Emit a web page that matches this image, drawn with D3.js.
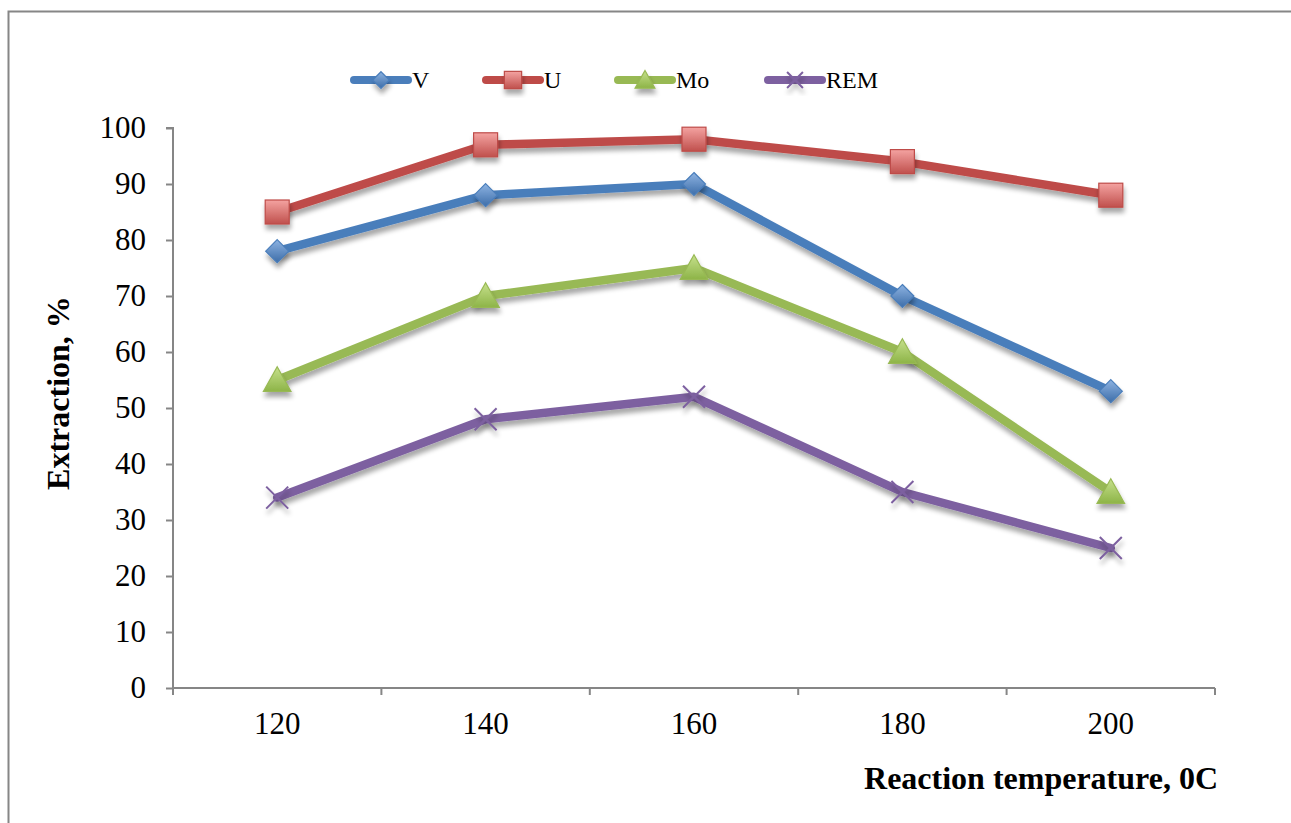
<!DOCTYPE html>
<html><head><meta charset="utf-8">
<script src="https://cdn.jsdelivr.net/npm/d3@7"></script>
<style>body{margin:0;background:#fff}svg{display:block}</style>
</head><body>
<svg id="c" width="1291" height="823"></svg>
<script>
const categories = ["120","140","160","180","200"];
const seriesNames = ["V","U","Mo","REM"];
const valuesV = [78, 88, 90, 70, 53];
const valuesU = [85, 97, 98, 94, 88];
const valuesMo = [55, 70, 75, 60, 35];
const valuesREM = [34, 48, 52, 35, 25];
const yTicks = [0,10,20,30,40,50,60,70,80,90,100];

const series = [
  {name:"V", values:valuesV, color:"#4A7EBB", light:"#8DB3E2", dark:"#3D6DA8", marker:"diamond"},
  {name:"U", values:valuesU, color:"#BE4B48", light:"#F4A3A1", dark:"#C0504D", marker:"square"},
  {name:"Mo", values:valuesMo, color:"#98B954", light:"#C6E08C", dark:"#8DB447", marker:"triangle"},
  {name:"REM", values:valuesREM, color:"#7D60A0", light:"#7D60A0", dark:"#7D60A0", marker:"x"}
];

const svg = d3.select("#c");
const defs = svg.append("defs");
const f = defs.append("filter").attr("id","sh").attr("x","-50%").attr("y","-50%").attr("width","200%").attr("height","200%");
f.append("feGaussianBlur").attr("in","SourceAlpha").attr("stdDeviation",2.5).attr("result","b");
f.append("feOffset").attr("dx",1).attr("dy",5).attr("result","o");
f.append("feComponentTransfer").append("feFuncA").attr("type","linear").attr("slope",0.35);
const m = f.append("feMerge"); m.append("feMergeNode"); m.append("feMergeNode").attr("in","SourceGraphic");
series.forEach((s,i)=>{
  const g = defs.append("linearGradient").attr("id","g"+i).attr("x1",0).attr("y1",0).attr("x2",0).attr("y2",1);
  g.append("stop").attr("offset","0%").attr("stop-color",s.light);
  g.append("stop").attr("offset","100%").attr("stop-color",s.dark);
});

// outer border
svg.append("path").attr("d","M8.5,823 L8.5,11.5 L1291,11.5").attr("fill","none").attr("stroke","#868686").attr("stroke-width",2);

const x0 = 173, x1 = 1215, yTop = 128, yBot = 688;
const x = d3.scaleBand().domain(categories).range([x0,x1]);
const y = d3.scaleLinear().domain([0,100]).range([yBot,yTop]);
const font = "'Liberation Serif','Times New Roman',serif";

// y axis
const ya = svg.append("g").attr("transform",`translate(${x0},0)`)
  .call(d3.axisLeft(y).tickValues(yTicks).tickSize(7).tickPadding(20));
ya.select(".domain").attr("stroke","#868686").attr("stroke-width",2).attr("d",`M-7,${yTop}H0V${yBot}`);
ya.selectAll(".tick line").attr("stroke","#868686").attr("stroke-width",2);
ya.selectAll(".tick text").attr("font-family",font).attr("font-size",31).attr("fill","#000");

// x axis
const xa = svg.append("g").attr("transform",`translate(0,${yBot})`)
  .call(d3.axisBottom(x).tickSize(0).tickPadding(24));
xa.select(".domain").attr("stroke","#868686").attr("stroke-width",2).attr("d",`M${x0},0H${x1}`);
xa.selectAll(".tick line").remove();
xa.selectAll(".tick text").attr("font-family",font).attr("font-size",31).attr("fill","#000");
const bounds = categories.map(c=>x(c)).concat([x1]);
xa.selectAll("line.sep").data(bounds).enter().append("line")
  .attr("x1",d=>d).attr("x2",d=>d).attr("y1",0).attr("y2",7)
  .attr("stroke","#868686").attr("stroke-width",2);

// axis titles
svg.append("text").attr("x",1218).attr("y",789).attr("text-anchor","end")
  .attr("font-family",font).attr("font-weight","bold").attr("font-size",32).text("Reaction temperature, 0C");
svg.append("text").attr("transform","translate(69,393) rotate(-90)").attr("text-anchor","middle")
  .attr("font-family",font).attr("font-weight","bold").attr("font-size",32).text("Extraction, %");

function drawMarker(g, type, cx, cy, i, s, scale){
  scale = scale||1;
  if(type==="diamond"){
    const r=11.5*scale;
    g.append("path").attr("d",`M${cx},${cy-r}L${cx+r},${cy}L${cx},${cy+r}L${cx-r},${cy}Z`)
      .attr("fill",`url(#g${i})`).attr("stroke",s.color).attr("stroke-width",1.2).attr("filter","url(#sh)");
  } else if(type==="square"){
    const r=12*scale;
    g.append("rect").attr("x",cx-r).attr("y",cy-r).attr("width",2*r).attr("height",2*r)
      .attr("fill",`url(#g${i})`).attr("stroke",s.color).attr("stroke-width",1.2).attr("filter","url(#sh)");
  } else if(type==="triangle"){
    const r=12*scale;
    g.append("path").attr("d",`M${cx},${cy-r*1.1}L${cx+r*1.15},${cy+r*0.95}L${cx-r*1.15},${cy+r*0.95}Z`)
      .attr("fill",`url(#g${i})`).attr("stroke",s.color).attr("stroke-width",1.2).attr("filter","url(#sh)");
  } else {
    const r=11*scale;
    g.append("path").attr("d",`M${cx-r},${cy-r}L${cx+r},${cy+r}M${cx-r},${cy+r}L${cx+r},${cy-r}`)
      .attr("stroke",s.color).attr("stroke-width",2).attr("fill","none").attr("filter","url(#sh)");
  }
}

const line = d3.line().x((d,j)=>x(categories[j])+x.bandwidth()/2).y(d=>y(d));
series.forEach((s,i)=>{
  const g = svg.append("g");
  g.append("path").datum(s.values).attr("d",line).attr("fill","none")
    .attr("stroke",s.color).attr("stroke-width",8.5).attr("stroke-linejoin","round").attr("stroke-linecap","round")
    .attr("filter","url(#sh)");
  s.values.forEach((v,j)=>drawMarker(g, s.marker, x(categories[j])+x.bandwidth()/2, y(v), i, s));
});

// legend
const legX = [351, 483, 615, 765];
series.forEach((s,i)=>{
  const g = svg.append("g");
  const lx = legX[i], ly = 80;
  g.append("line").attr("x1",lx+3).attr("x2",lx+57).attr("y1",ly).attr("y2",ly)
    .attr("stroke",s.color).attr("stroke-width",8).attr("stroke-linecap","round");
  drawMarker(g, s.marker, lx+30, ly, i, s, 0.72);
  g.append("text").attr("x",lx+61).attr("y",ly+8).attr("font-family",font).attr("font-size",24).text(s.name);
});
</script>
</body></html>
